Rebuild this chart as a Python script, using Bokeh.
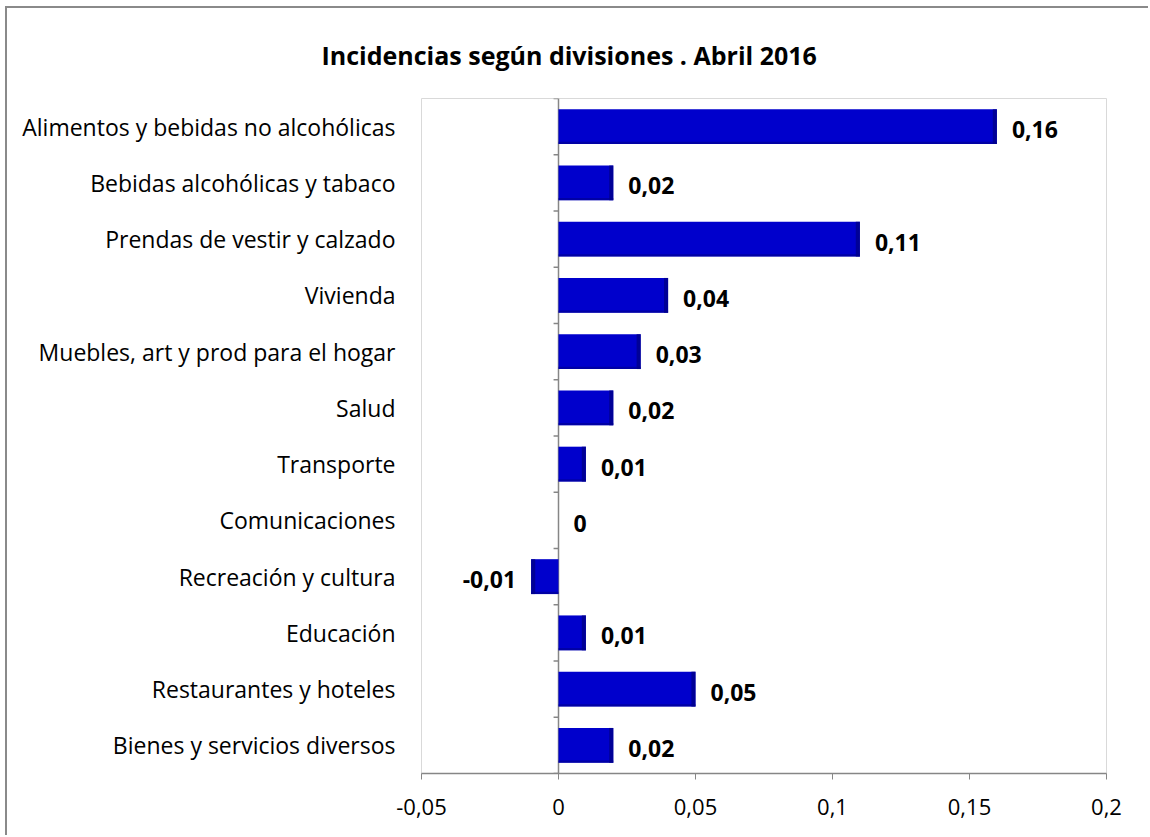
from bokeh.plotting import figure
from bokeh.models import FixedTicker, Title, ColumnDataSource
from bokeh.core.properties import value
from bokeh.embed import file_html
from bokeh.resources import INLINE

title_text = "Incidencias según divisiones . Abril 2016"
categories = [
    "Alimentos y bebidas no alcohólicas",
    "Bebidas alcohólicas y tabaco",
    "Prendas de vestir y calzado",
    "Vivienda",
    "Muebles, art y prod para el hogar",
    "Salud",
    "Transporte",
    "Comunicaciones",
    "Recreación y cultura",
    "Educación",
    "Restaurantes y hoteles",
    "Bienes y servicios diversos",
]
values = [0.16, 0.02, 0.11, 0.04, 0.03, 0.02, 0.01, 0.0, -0.01, 0.01, 0.05, 0.02]
value_labels = ["0,16", "0,02", "0,11", "0,04", "0,03", "0,02", "0,01", "0", "-0,01", "0,01", "0,05", "0,02"]
x_ticks = [-0.05, 0.0, 0.05, 0.1, 0.15, 0.2]
x_tick_labels = ["-0,05", "0", "0,05", "0,1", "0,15", "0,2"]

n = len(categories)
ypos = [n - 1 - i for i in range(n)]

FONT = "Open Sans"
GREY = "#868686"

# canvas placed at (7, 8) in the page, with a grey border on its left/top edges
OX, OY = 7, 8
p = figure(width=1150 - OX, height=837 - OY, x_range=(-0.05, 0.2), y_range=(-0.5, n - 0.5),
           output_backend="svg", toolbar_location=None,
           min_border_left=421 - OX, min_border_right=44, min_border_top=98 - OY,
           min_border_bottom=64,
           margin=(OY, 0, 0, OX),
           styles={"box-shadow": "-2px -2px 0 0 #8a8a8a"})
p.background_fill_color = "white"
p.border_fill_color = "white"
p.outline_line_color = "#d9d9d9"
p.outline_line_width = 1
p.xgrid.visible = False
p.ygrid.visible = False

# title
p.add_layout(Title(text=title_text, align="left", offset=321 - 421, standoff=54,
                   text_font=FONT, text_font_style="bold", text_font_size="25px",
                   text_color="black"), "above")

# x axis
p.xaxis.ticker = FixedTicker(ticks=x_ticks)
p.xaxis.major_label_overrides = {t: l for t, l in zip(x_ticks, x_tick_labels)}
p.xaxis.axis_line_color = GREY
p.xaxis.axis_line_width = 1.5
p.xaxis.major_tick_line_color = GREY
p.xaxis.major_tick_out = 6
p.xaxis.major_tick_in = 0
p.xaxis.minor_tick_line_color = None
p.xaxis.major_label_text_font = FONT
p.xaxis.major_label_text_font_size = "22px"
p.xaxis.major_label_text_color = "black"
p.xaxis.major_label_standoff = 19

# y axis: category labels
p.yaxis.ticker = FixedTicker(ticks=ypos)
p.yaxis.major_label_overrides = {y: c for y, c in zip(ypos, categories)}
p.yaxis.axis_line_color = None
p.yaxis.major_tick_line_color = None
p.yaxis.minor_tick_line_color = None
p.yaxis.major_tick_out = 0
p.yaxis.major_tick_in = 0
p.yaxis.major_label_text_font = FONT
p.yaxis.major_label_text_font_size = "23px"
p.yaxis.major_label_text_color = "black"
p.yaxis.major_label_standoff = 26

# vertical zero axis with category boundary ticks
p.segment(x0=[0], y0=[-0.5], x1=[0], y1=[n - 0.5], line_color=GREY, line_width=1.5)
bounds = [i - 0.5 for i in range(n + 1)]
p.segment(x0=[-0.0018] * len(bounds), y0=bounds, x1=[0] * len(bounds), y1=bounds,
          line_color=GREY, line_width=1.5)

# bars
src = ColumnDataSource(dict(y=ypos, v=values, lab=value_labels,
                            edge=[v - (0.0015 if v > 0 else -0.0015) if v != 0 else 0 for v in values]))
p.hbar(y="y", left=0, right="v", height=0.62, source=src, fill_color="#0000CC", line_color=None)
p.hbar(y="y", left="edge", right="v", height=0.62, source=src, fill_color="#00008a",
       fill_alpha=0.8, line_color=None)
p.hbar(y=[y - 0.29 for y in ypos], left=0, right=values, height=0.04, fill_color="#00008a",
       fill_alpha=0.6, line_color=None)

# value labels
pos = [i for i, v in enumerate(values) if v >= 0]
neg = [i for i, v in enumerate(values) if v < 0]
p.text(x=[values[i] for i in pos], y=[ypos[i] for i in pos], text=[value_labels[i] for i in pos],
       x_offset=15, y_offset=3, text_align="left", text_baseline="middle",
       text_font=value(FONT), text_font_style="bold", text_font_size="23px", text_color="black")
p.text(x=[values[i] for i in neg], y=[ypos[i] for i in neg], text=[value_labels[i] for i in neg],
       x_offset=-15, y_offset=3, text_align="right", text_baseline="middle",
       text_font=value(FONT), text_font_style="bold", text_font_size="23px", text_color="black")

open("out.html", "w").write(file_html(p, INLINE))
